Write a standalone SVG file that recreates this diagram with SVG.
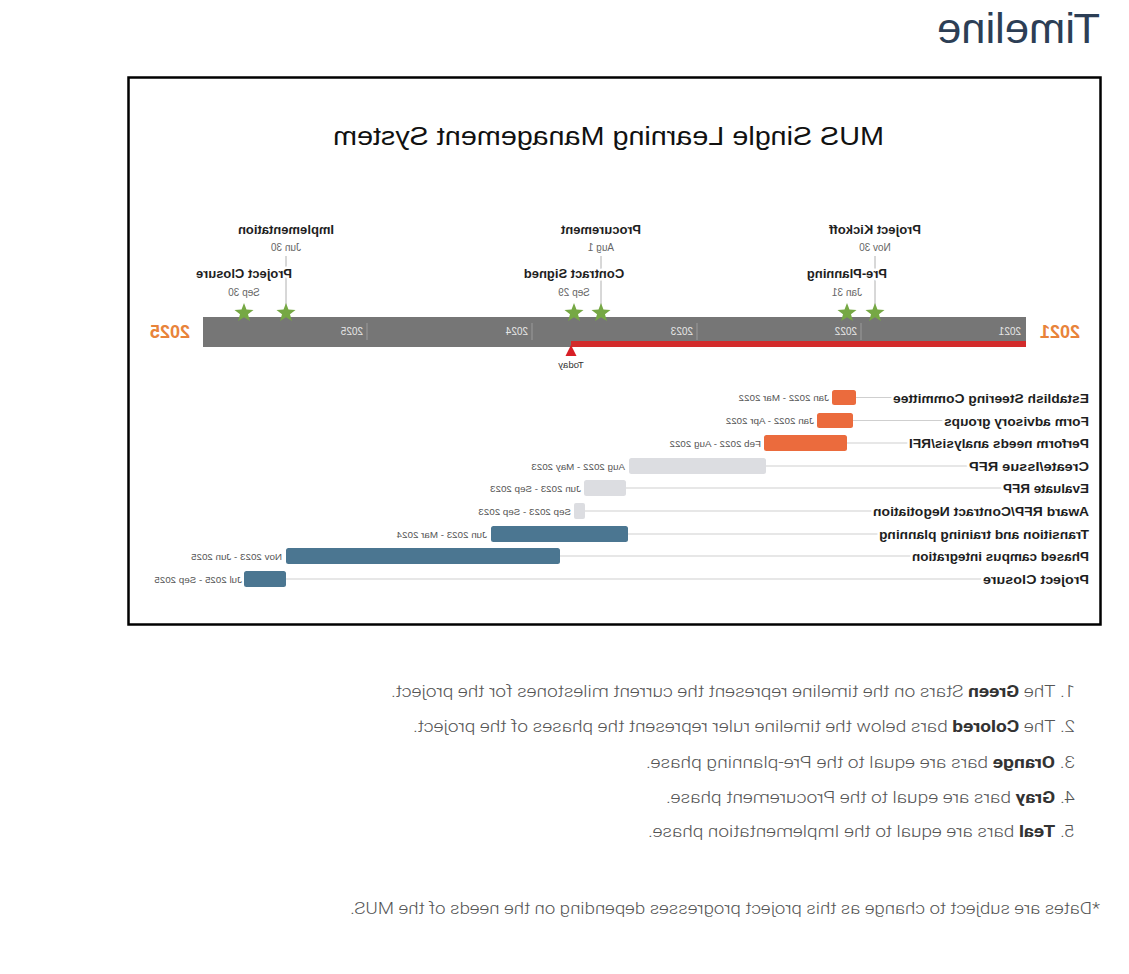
<svg xmlns="http://www.w3.org/2000/svg" xmlns:xlink="http://www.w3.org/1999/xlink" width="1129" height="974" viewBox="0 0 1129 974">
<style>
.sans{font-family:"Liberation Sans",Arial,sans-serif}
.ms{font-family:"Liberation Sans",Arial,sans-serif;font-weight:bold;font-size:13px;fill:#1e1e1e;text-anchor:middle}
.msd{font-family:"Liberation Sans",Arial,sans-serif;font-size:10px;fill:#666;text-anchor:middle}
.halo{paint-order:stroke;stroke:#fff;stroke-width:5px;stroke-linejoin:round}
.yr{font-family:"Liberation Sans",Arial,sans-serif;font-size:10px;fill:#e6e6e6}
.task{font-family:"Liberation Sans",Arial,sans-serif;font-weight:bold;font-size:13.5px;fill:#1e1e1e}
.dt{font-family:"Liberation Sans",Arial,sans-serif;font-size:9.8px;fill:#555}
.row{stroke:#cfcfcf;stroke-width:1}
.conn{stroke:#b0b0b0;stroke-width:1}
.tick{stroke:#9a9a9a;stroke-width:1}
.or{fill:#eb6b3d}
.gr{fill:#dcdde1}
.te{fill:#4b7691}
.note{font-family:Roboto,"Liberation Sans",sans-serif;font-weight:300;font-size:17px;fill:#555}
.note tspan.b{font-weight:bold;fill:#333}
</style>
<defs>
<path id="star" d="M0,-10 L2.47,-3.4 L9.51,-3.09 L3.99,1.3 L5.88,8.09 L0,4.2 L-5.88,8.09 L-3.99,1.3 L-9.51,-3.09 L-2.47,-3.4 Z" fill="#76a844"/>
</defs>
<rect width="1129" height="974" fill="#fff"/>
<g transform="translate(1129 0) scale(-1 1)">
  <g id="page-title">
    <text x="29" y="43" class="sans" font-size="42" fill="#2c3e55" textLength="163" lengthAdjust="spacingAndGlyphs">Timeline</text>
  </g>
  <g id="frame">
    <rect x="28.5" y="77.5" width="972" height="547" fill="none" stroke="#000" stroke-width="2.5"/>
  </g>
  <g id="chart-title">
    <text x="245" y="145" class="sans" font-size="26" fill="#111" textLength="551" lengthAdjust="spacingAndGlyphs">MUS Single Learning Management System</text>
  </g>
  <g id="ruler">
    <rect x="103" y="317" width="823" height="30" fill="#767676"/>
    <rect x="103" y="341" width="455" height="6" fill="#d22b2b"/>
    <line class="tick" x1="268" y1="323" x2="268" y2="340"/>
    <line class="tick" x1="432" y1="323" x2="432" y2="340"/>
    <line class="tick" x1="597" y1="323" x2="597" y2="340"/>
    <line class="tick" x1="762" y1="323" x2="762" y2="340"/>
    <text class="yr" x="108" y="335">2021</text>
    <text class="yr" x="272" y="335">2022</text>
    <text class="yr" x="436" y="335">2023</text>
    <text class="yr" x="601" y="335">2024</text>
    <text class="yr" x="766" y="335">2025</text>
    <text x="49" y="338" class="sans" font-weight="bold" font-size="18" fill="#e8833a">2021</text>
    <text x="939" y="338" class="sans" font-weight="bold" font-size="18" fill="#e8833a">2025</text>
  </g>
  <g id="today">
    <path d="M558,345 L563.5,356 L552.5,356 Z" fill="#d81f26"/>
    <text x="558" y="368" class="sans" font-size="9.5" fill="#333" text-anchor="middle">Today</text>
  </g>
  <g id="connectors">
    <line class="conn" x1="254" y1="256" x2="254" y2="305"/>
    <line class="conn" x1="528" y1="256" x2="528" y2="305"/>
    <line class="conn" x1="843" y1="256" x2="843" y2="305"/>
    <line class="row" x1="40" y1="397.5" x2="273" y2="397.5"/>
    <line class="row" x1="40" y1="420.5" x2="276" y2="420.5"/>
    <line class="row" x1="40" y1="443" x2="282" y2="443"/>
    <line class="row" x1="40" y1="466" x2="363" y2="466"/>
    <line class="row" x1="40" y1="488" x2="503" y2="488"/>
    <line class="row" x1="40" y1="511" x2="544" y2="511"/>
    <line class="row" x1="40" y1="534" x2="501" y2="534"/>
    <line class="row" x1="40" y1="556" x2="569" y2="556"/>
    <line class="row" x1="40" y1="579" x2="843" y2="579"/>
  </g>
  <g id="ms-kickoff">
    <text class="ms" x="254" y="234">Project Kickoff</text>
    <text class="msd" x="254" y="251">Nov 30</text>
    <use xlink:href="#star" x="254" y="313"/>
  </g>
  <g id="ms-preplanning">
    <text class="ms halo" x="282" y="278">Pre-Planning</text>
    <text class="msd" x="282" y="296">Jan 31</text>
    <use xlink:href="#star" x="282" y="313"/>
  </g>
  <g id="ms-procurement">
    <text class="ms" x="528" y="234">Procurement</text>
    <text class="msd" x="528" y="251">Aug 1</text>
    <use xlink:href="#star" x="528" y="313"/>
  </g>
  <g id="ms-contract">
    <text class="ms halo" x="555" y="278">Contract Signed</text>
    <text class="msd" x="555" y="296">Sep 29</text>
    <use xlink:href="#star" x="555" y="313"/>
  </g>
  <g id="ms-implementation">
    <text class="ms" x="843" y="234">Implementation</text>
    <text class="msd" x="843" y="251">Jun 30</text>
    <use xlink:href="#star" x="843" y="313"/>
  </g>
  <g id="ms-closure">
    <text class="ms halo" x="885" y="278">Project Closure</text>
    <text class="msd" x="885" y="296">Sep 30</text>
    <use xlink:href="#star" x="885" y="313"/>
  </g>
  <g id="task-1">
    <text class="task halo" x="40" y="402.5" textLength="196" lengthAdjust="spacingAndGlyphs">Establish Steering Committee</text>
    <rect class="or" x="273" y="390" width="24" height="15" rx="2.5"/>
    <text class="dt" x="300" y="401">Jan 2022 - Mar 2022</text>
  </g>
  <g id="task-2">
    <text class="task halo" x="40" y="425.5" textLength="145" lengthAdjust="spacingAndGlyphs">Form advisory groups</text>
    <rect class="or" x="276" y="413" width="36" height="15" rx="2.5"/>
    <text class="dt" x="315" y="424">Jan 2022 - Apr 2022</text>
  </g>
  <g id="task-3">
    <text class="task halo" x="40" y="448" textLength="180" lengthAdjust="spacingAndGlyphs">Perform needs analysis/RFI</text>
    <rect class="or" x="282" y="435" width="83" height="16" rx="2.5"/>
    <text class="dt" x="368" y="446.5">Feb 2022 - Aug 2022</text>
  </g>
  <g id="task-4">
    <text class="task halo" x="40" y="471" textLength="120" lengthAdjust="spacingAndGlyphs">Create/Issue RFP</text>
    <rect class="gr" x="363" y="458" width="137" height="16" rx="2.5"/>
    <text class="dt" x="504" y="469.5">Aug 2022 - May 2023</text>
  </g>
  <g id="task-5">
    <text class="task halo" x="40" y="493" textLength="86" lengthAdjust="spacingAndGlyphs">Evaluate RFP</text>
    <rect class="gr" x="503" y="480" width="42" height="16" rx="2.5"/>
    <text class="dt" x="548" y="491.5">Jun 2023 - Sep 2023</text>
  </g>
  <g id="task-6">
    <text class="task halo" x="40" y="516" textLength="216" lengthAdjust="spacingAndGlyphs">Award RFP/Contract Negotiation</text>
    <rect class="gr" x="544" y="503" width="11" height="16" rx="2"/>
    <text class="dt" x="558" y="514.5">Sep 2023 - Sep 2023</text>
  </g>
  <g id="task-7">
    <text class="task halo" x="40" y="539" textLength="210" lengthAdjust="spacingAndGlyphs">Transition and training planning</text>
    <rect class="te" x="501" y="526" width="137" height="16" rx="2.5"/>
    <text class="dt" x="642" y="537.5">Jun 2023 - Mar 2024</text>
  </g>
  <g id="task-8">
    <text class="task halo" x="40" y="561" textLength="177" lengthAdjust="spacingAndGlyphs">Phased campus integration</text>
    <rect class="te" x="569" y="548" width="274" height="16" rx="2.5"/>
    <text class="dt" x="847" y="559.5">Nov 2023 - Jun 2025</text>
  </g>
  <g id="task-9">
    <text class="task halo" x="40" y="584" textLength="106" lengthAdjust="spacingAndGlyphs">Project Closure</text>
    <rect class="te" x="843" y="571" width="42" height="16" rx="2.5"/>
    <text class="dt" x="887" y="582.5">Jul 2025 - Sep 2025</text>
  </g>
  <g id="notes">
    <text class="note" x="54" y="697" textLength="684" lengthAdjust="spacingAndGlyphs">1. The <tspan class="b">Green</tspan> Stars on the timeline represent the current milestones for the project.</text>
    <text class="note" x="54" y="732" textLength="662" lengthAdjust="spacingAndGlyphs">2. The <tspan class="b">Colored</tspan> bars below the timeline ruler represent the phases of the project.</text>
    <text class="note" x="54" y="768" textLength="429" lengthAdjust="spacingAndGlyphs">3. <tspan class="b">Orange</tspan> bars are equal to the Pre-planning phase.</text>
    <text class="note" x="54" y="803" textLength="409" lengthAdjust="spacingAndGlyphs">4. <tspan class="b">Gray</tspan> bars are equal to the Procurement phase.</text>
    <text class="note" x="54" y="837" textLength="427" lengthAdjust="spacingAndGlyphs">5. <tspan class="b">Teal</tspan> bars are equal to the Implementation phase.</text>
    <text class="note" x="29" y="914" textLength="750" lengthAdjust="spacingAndGlyphs">*Dates are subject to change as this project progresses depending on the needs of the MUS.</text>
  </g>
</g>
</svg>
